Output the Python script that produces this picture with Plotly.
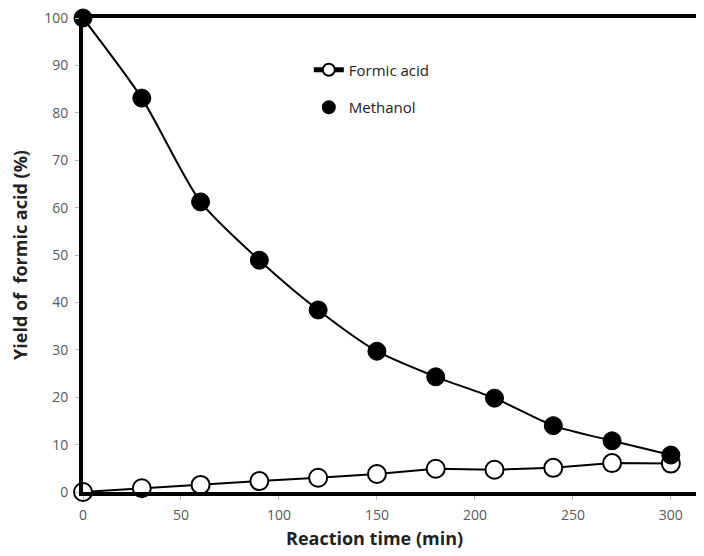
import plotly.graph_objects as go

time_min = [0, 30, 60, 90, 120, 150, 180, 210, 240, 270, 300]
methanol = [100, 83.1, 61.2, 48.9, 38.4, 29.7, 24.3, 19.8, 14.0, 10.8, 7.8]
formic_acid = [0, 0.8, 1.5, 2.3, 3.0, 3.8, 4.9, 4.7, 5.1, 6.1, 6.0]
x_ticks = [0, 50, 100, 150, 200, 250, 300]
y_ticks = [0, 10, 20, 30, 40, 50, 60, 70, 80, 90, 100]

fig = go.Figure()

# smooth curve through methanol
fig.add_trace(go.Scatter(
    x=time_min, y=methanol, mode="lines",
    line=dict(color="black", width=2, shape="spline", smoothing=0.7),
    showlegend=False, hoverinfo="skip", cliponaxis=False,
))
fig.add_trace(go.Scatter(
    x=time_min, y=formic_acid, mode="lines+markers", name="Formic acid",
    line=dict(color="black", width=2),
    marker=dict(symbol="circle", size=18, color="white", line=dict(color="black", width=2)),
    legendgroup="a", cliponaxis=False,
))
fig.add_trace(go.Scatter(
    x=time_min, y=methanol, mode="markers", name="Methanol",
    marker=dict(symbol="circle", size=18, color="black", line=dict(color="black", width=1)),
    legendgroup="b", cliponaxis=False,
))

fig.add_annotation(
    text="<b>Reaction time (min)</b>", xref="paper", yref="paper",
    x=0.464, y=0, xanchor="center", yanchor="middle", yshift=-46,
    showarrow=False, font=dict(size=18, color="#222222"),
)

fig.update_layout(
    width=704, height=556,
    margin=dict(l=75, r=0, t=10, b=72),
    plot_bgcolor="white", paper_bgcolor="white",
    font=dict(family="Open Sans, Noto Sans, sans-serif", color="#595959", size=14),
    showlegend=True,
    legend=dict(
        x=0.359, y=0.925, xanchor="left", yanchor="top",
        bgcolor="rgba(0,0,0,0)", font=dict(size=15, color="#222222"),
        tracegroupgap=15, itemsizing="constant",
    ),
    xaxis=dict(
        range=[0, 321], tickvals=x_ticks, ticks="outside", ticklen=4, tickcolor="#bbbbbb",
        ticklabelstandoff=3, ticklabeloverflow="allow",
        showline=True, linecolor="black", linewidth=4, mirror=True,
        showgrid=False, zeroline=False,
    ),
    yaxis=dict(
        range=[0, 100], tickvals=y_ticks, ticks="outside", ticklen=4, tickcolor="#bbbbbb",
        ticklabelstandoff=4, ticklabeloverflow="allow",
        showline=True, linecolor="black", linewidth=4,
        showgrid=False, zeroline=False,
        title=dict(text="<b>Yield of  formic acid (%)</b>", font=dict(size=18, color="#222222"), standoff=18),
    ),
)

fig.write_html("out.html")
